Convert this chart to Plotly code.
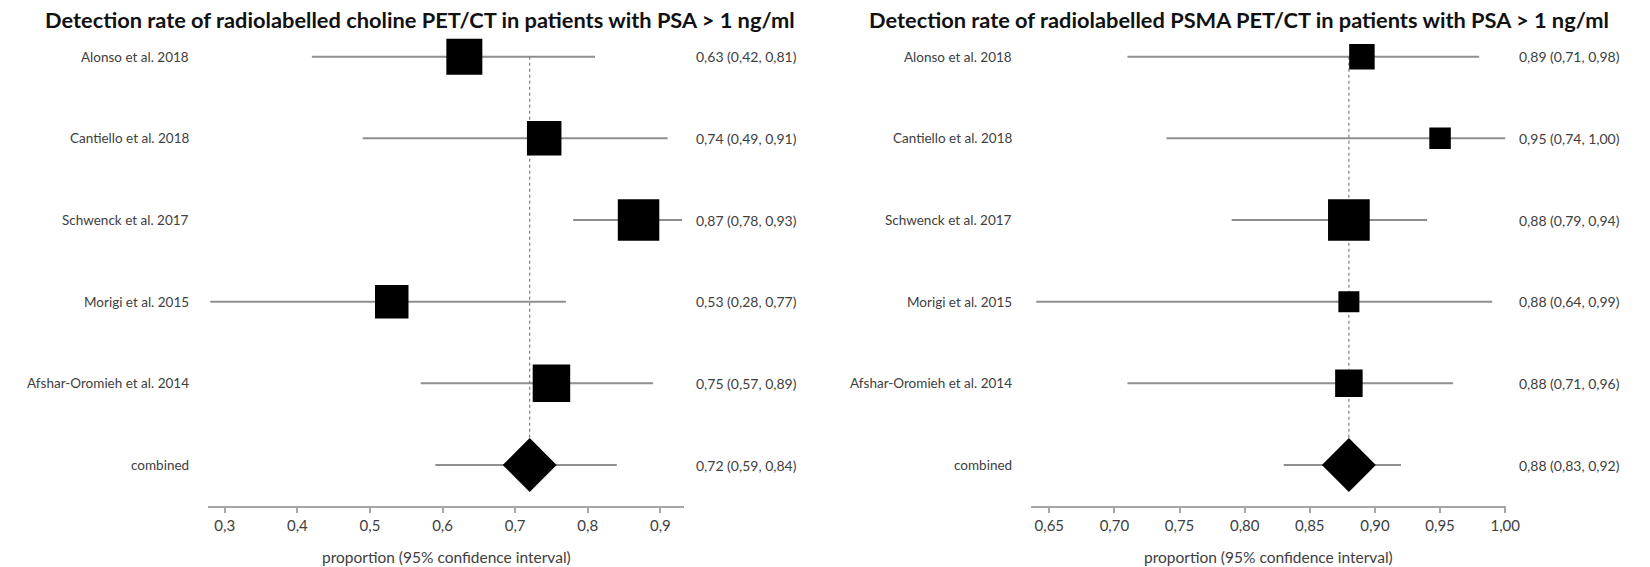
import plotly.graph_objects as go

# Studies (top to bottom), pooled estimate last
studies = ["Alonso et al. 2018", "Cantiello et al. 2018", "Schwenck et al. 2017",
           "Morigi et al. 2015", "Afshar-Oromieh et al. 2014", "combined"]

# Radiolabelled choline PET/CT: detection rate with 95% CI
choline_est = [0.63, 0.74, 0.87, 0.53, 0.75, 0.72]
choline_lo = [0.42, 0.49, 0.78, 0.28, 0.57, 0.59]
choline_hi = [0.81, 0.91, 0.93, 0.77, 0.89, 0.84]

# Radiolabelled PSMA PET/CT: detection rate with 95% CI
psma_est = [0.89, 0.95, 0.88, 0.88, 0.88, 0.88]
psma_lo = [0.71, 0.74, 0.79, 0.64, 0.71, 0.83]
psma_hi = [0.98, 1.00, 0.94, 0.99, 0.96, 0.92]

# Study weights shown as box size (pixels)
choline_box = [36, 34.5, 41.5, 33.5, 37.5]
psma_box = [25.5, 21.5, 41.7, 21, 27.5]
diamond_size = 41.5

choline_ticks = [0.3, 0.4, 0.5, 0.6, 0.7, 0.8, 0.9]
psma_ticks = [0.65, 0.70, 0.75, 0.80, 0.85, 0.90, 0.95, 1.00]

titles = ["Detection rate of radiolabelled choline PET/CT in patients with PSA > 1 ng/ml",
          "Detection rate of radiolabelled PSMA PET/CT in patients with PSA > 1 ng/ml"]
axis_title = "proportion (95% confidence interval)"

W, H = 1650, 567
FONT = "Lato"
LINE = "#8f8f8f"
TXT = "#404040"

n = len(studies)
ypos = [n - 1 - i for i in range(n)]  # 5 .. 0


def comma(v, nd):
    return f"{v:.{nd}f}".replace(".", ",")


fig = go.Figure()

panels = [
    dict(est=choline_est, lo=choline_lo, hi=choline_hi, box=choline_box, xa="x", ya="y",
         ticks=choline_ticks, nd_tick=1, dom=(210, 690), rng=(0.2772, 0.9328),
         lab_x=193, val_x=700, title_x=424),
    dict(est=psma_est, lo=psma_lo, hi=psma_hi, box=psma_box, xa="x2", ya="y2",
         ticks=psma_ticks, nd_tick=2, dom=(1040, 1519), rng=(0.6361, 1.0007),
         lab_x=1023, val_x=1530, title_x=1250),
]

annotations = []
layout_axes = {}

for k, p in enumerate(panels):
    # confidence interval lines
    for i in range(n):
        fig.add_trace(go.Scatter(
            x=[p["lo"][i], p["hi"][i]], y=[ypos[i], ypos[i]], mode="lines",
            line=dict(color=LINE, width=2), xaxis=p["xa"], yaxis=p["ya"],
            showlegend=False, hoverinfo="skip", cliponaxis=True))
    # dotted reference line at the pooled estimate
    fig.add_trace(go.Scatter(
        x=[p["est"][-1], p["est"][-1]], y=[ypos[0], ypos[-1]], mode="lines",
        line=dict(color="#7f7f7f", width=1.2, dash="dot"),
        xaxis=p["xa"], yaxis=p["ya"], showlegend=False, hoverinfo="skip"))
    # study boxes
    fig.add_trace(go.Scatter(
        x=p["est"][:-1], y=ypos[:-1], mode="markers",
        marker=dict(symbol="square", size=p["box"], color="black", opacity=1,
                    line=dict(width=0)),
        xaxis=p["xa"], yaxis=p["ya"], showlegend=False))
    # pooled diamond
    fig.add_trace(go.Scatter(
        x=[p["est"][-1]], y=[ypos[-1]], mode="markers",
        marker=dict(symbol="diamond", size=diamond_size, color="black", opacity=1,
                    line=dict(width=0)),
        xaxis=p["xa"], yaxis=p["ya"], showlegend=False))

    sfx = "" if k == 0 else "2"
    layout_axes["xaxis" + sfx] = dict(
        domain=[p["dom"][0] / W, p["dom"][1] / W], range=list(p["rng"]),
        anchor="y" + sfx, showline=True, linecolor="#a6a6a6", linewidth=2,
        ticks="outside", ticklen=5, tickwidth=1.5, tickcolor="#a6a6a6",
        tickvals=p["ticks"], ticktext=[comma(t, p["nd_tick"]) for t in p["ticks"]],
        tickfont=dict(family=FONT, size=15, color=TXT),
        showgrid=False, zeroline=False, fixedrange=True)
    layout_axes["yaxis" + sfx] = dict(
        domain=[(H - 506) / H, 1], range=[-0.502, 5.694], anchor="x" + sfx,
        visible=False, showgrid=False, zeroline=False, fixedrange=True)

    for i in range(n):
        annotations.append(dict(
            x=p["lab_x"] / W, xref="paper", y=ypos[i], yref=p["ya"], text=studies[i],
            xanchor="right", yanchor="middle", showarrow=False,
            font=dict(family=FONT, size=13.5, color=TXT)))
        annotations.append(dict(
            x=p["val_x"] / W, xref="paper", y=ypos[i], yref=p["ya"],
            text=f"{comma(p['est'][i], 2)} ({comma(p['lo'][i], 2)}, {comma(p['hi'][i], 2)})",
            xanchor="left", yanchor="middle", showarrow=False,
            font=dict(family=FONT, size=14, color=TXT)))
    annotations.append(dict(
        x=p["title_x"] / W, xref="paper", y=1 - 19 / H, yref="paper", text=f"<b>{titles[k]}</b>",
        xanchor="center", yanchor="middle", showarrow=False,
        font=dict(family=FONT, size=21.8, color="#111111")))
    annotations.append(dict(
        x=(p["dom"][0] + p["dom"][1]) / 2 / W, xref="paper", y=1 - 557 / H, yref="paper",
        text=axis_title, xanchor="center", yanchor="middle", showarrow=False,
        font=dict(family=FONT, size=15.5, color=TXT)))

fig.update_layout(
    width=W, height=H, margin=dict(l=0, r=0, t=0, b=0),
    paper_bgcolor="white", plot_bgcolor="white",
    annotations=annotations, **layout_axes)

fig.write_html("out.html")
